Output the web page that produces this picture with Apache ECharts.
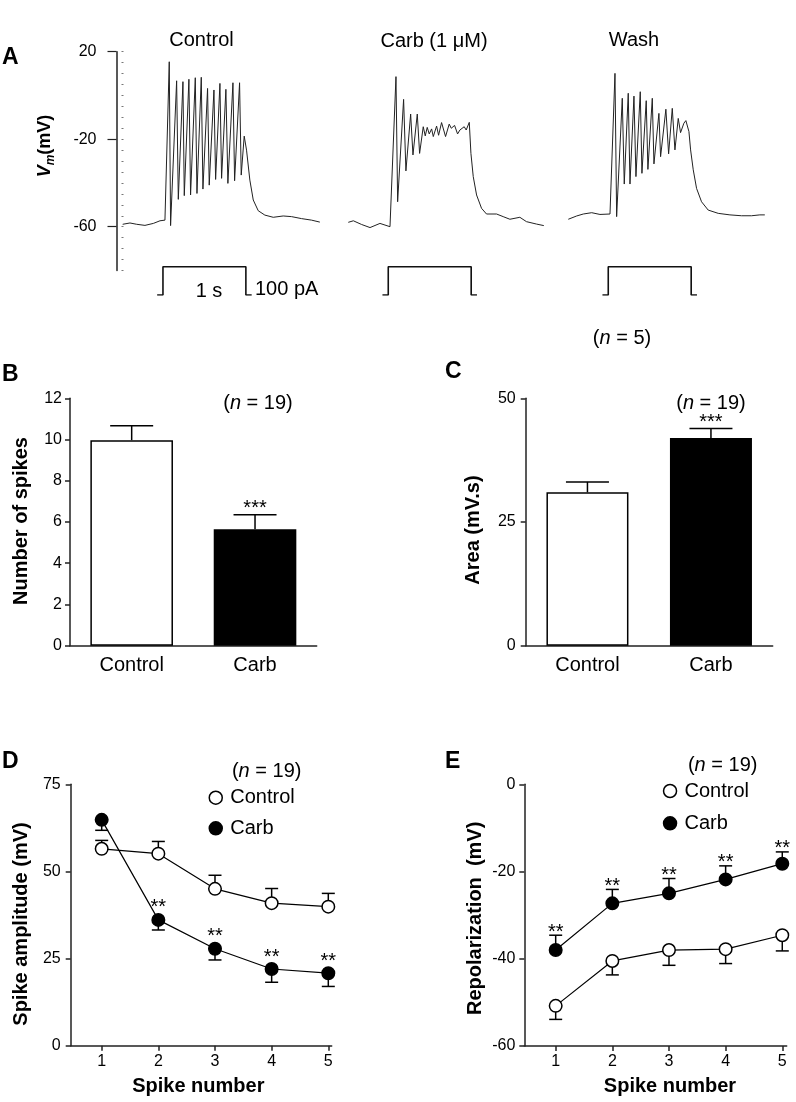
<!DOCTYPE html>
<html><head><meta charset="utf-8">
<script src="https://cdn.jsdelivr.net/npm/echarts@6/dist/echarts.min.js"></script>
<style>html,body{margin:0;padding:0;background:#fff}#c{width:796px;height:1102px}</style>
</head><body><div id="c"></div>
<script>
// ---------------- DATA ----------------
// Panel A: membrane potential traces [time (ms), Vm (mV)]
const traceControl = [[14,-58.9],[102,-58.3],[183,-58.9],[283,-59.4],[384,-58.5],[464,-57.3],[524,-57.0],
 [576,15.4],[592,-59.5],[665,6.7],[685,-47.5],[741,6.3],[757,-45.8],[813,7.4],[833,-45.5],[890,8.1],[910,-44.8],
 [962,8.3],[982,-42.8],[1038,3.2],[1058,-41.0],[1115,2.5],[1135,-38.4],[1187,5.5],[1207,-37.9],[1259,2.8],[1283,-40.2],
 [1344,5.8],[1364,-39.0],[1424,5.8],[1444,-36.4],[1480,-18.6],[1508,-25.0],[1548,-38.7],[1589,-47.8],[1649,-52.7],
 [1729,-54.7],[1830,-55.7],[1950,-55.1],[2051,-55.4],[2171,-56.3],[2292,-57.0],[2392,-57.9]];
const traceCarb = [[18,-58.0],[79,-57.3],[179,-59.0],[280,-60.4],[400,-58.5],[521,-60.0],[593,8.6],[613,-48.6],
 [685,-1.8],[713,-34.5],[770,-8.5],[798,-27.2],[850,-8.5],[878,-26.5],[922,-14.3],[946,-18.5],[970,-14.6],[994,-17.6],
 [1023,-15.3],[1043,-18.8],[1083,-14.0],[1107,-18.2],[1143,-12.4],[1191,-18.8],[1235,-13.1],[1260,-15.0],[1300,-13.7],
 [1336,-17.6],[1364,-15.8],[1388,-16.5],[1416,-14.3],[1440,-15.8],[1477,-12.3],[1497,-26.5],[1525,-37.1],[1565,-45.5],
 [1625,-51.6],[1685,-54.2],[1806,-54.2],[1886,-55.4],[1967,-56.6],[2087,-55.7],[2167,-57.7],[2288,-58.8],[2376,-59.5]];
const traceWash = [[18,-56.6],[119,-55.1],[199,-54.2],[300,-53.6],[400,-54.4],[521,-54.2],[581,10.1],[601,-55.4],
 [669,-1.3],[693,-40.5],[741,1.0],[762,-40.5],[810,-0.3],[834,-37.1],[886,1.7],[906,-35.6],[958,-2.4],[978,-33.8],
 [1031,-1.3],[1051,-31.3],[1111,-8.2],[1131,-28.0],[1195,-6.3],[1228,-26.7],[1272,-5.9],[1304,-24.9],[1344,-10.5],
 [1372,-17.0],[1412,-12.7],[1436,-11.5],[1473,-16.5],[1493,-24.9],[1525,-34.0],[1565,-42.5],[1625,-48.6],[1705,-52.4],
 [1826,-53.9],[1967,-54.6],[2107,-55.0],[2228,-55.0],[2328,-54.6],[2388,-54.6]];
// current step [time (ms), pA]
const stimulus = [[430,0],[500,0],[500,100],[1500,100],[1500,0],[1570,0]];
const vmTicks = [20,-20,-60];

// Panel B & C
const barCats = ['Control','Carb'];
const spikesMean = [9.97, 5.65];
const spikesSem = [0.7, 0.7];
const areaMean = [31.0, 42.0];
const areaSem = [2.1, 1.9];

// Panel D & E
const spikeNums = [1,2,3,4,5];
const ampControl = [56.5, 55.1, 45.0, 40.9, 39.9];
const ampControlSem = [2.4, 3.5, 3.9, 4.2, 3.8];
const ampCarb = [64.8, 36.1, 27.8, 22.0, 20.8];
const ampCarbSem = [3.0, 2.9, 3.2, 3.8, 3.8];
const repControl = [-50.8, -40.5, -38.0, -37.8, -34.6];
const repControlSem = [3.1, 3.2, 3.5, 3.3, 3.6];
const repCarb = [-38.0, -27.3, -25.0, -21.8, -18.2];
const repCarbSem = [3.4, 3.2, 3.4, 3.1, 2.7];
const starsD = [2,3,4,5];
const starsE = [1,2,3,4,5];

// ---------------- CHART ----------------
const FONT = '"Liberation Sans", Arial, Helvetica, sans-serif';
const AX = '#222';
const chart = echarts.init(document.getElementById('c'), null, {renderer:'canvas'});

const traceLefts = [121.5, 346.8, 566.8];
const grids = [];
traceLefts.forEach(l => grids.push({left:l, top:51.7, width:199, height:218.75}));
traceLefts.forEach(l => grids.push({left:l, top:266.7, width:199, height:28.3}));
grids.push({left:70, top:398.3, width:246.7, height:247.4});     // B
grids.push({left:525.7, top:398.3, width:247, height:247.4});    // C
grids.push({left:70.7, top:784.3, width:261, height:261.4});     // D
grids.push({left:524.3, top:784.3, width:262.4, height:261.7});  // E

const axLine = {show:true, onZero:false, lineStyle:{color:AX, width:1.5}};
const tickLab = {color:'#000', fontSize:16, fontFamily:FONT};

const xAxis = [];
for (let g=0; g<6; g++) xAxis.push({type:'value', gridIndex:g, min:0, max:2400, show:false});
[6,7].forEach(g => xAxis.push({type:'category', gridIndex:g, position:'bottom', data:barCats, axisLine:axLine,
  axisTick:{show:false}, axisLabel:{color:'#000', fontSize:20, fontFamily:FONT, margin:10}}));
[[8,0.453,5.06],[9,0.446,5.078]].forEach(([g,mn,mx]) => xAxis.push({type:'value', gridIndex:g, position:'bottom',
  min:mn, max:mx, axisLine:axLine, splitLine:{show:false},
  axisTick:{show:true, length:5, lineStyle:{color:AX, width:1.5}, customValues:spikeNums},
  axisLabel:Object.assign({margin:8, customValues:spikeNums}, tickLab)}));

const yAxis = [
  {type:'value', gridIndex:0, position:'left', min:-80, max:20, offset:5, axisLine:axLine, splitLine:{show:false},
   axisTick:{show:true, length:9, lineStyle:{color:AX, width:1.2}, customValues:vmTicks},
   axisLabel:Object.assign({margin:20, customValues:vmTicks}, tickLab)},
  {type:'value', gridIndex:0, position:'left', min:-80, max:20, interval:5, offset:5, axisLine:{show:false},
   splitLine:{show:false},
   axisTick:{show:true, inside:true, length:2, lineStyle:{color:'#777', width:1}}, axisLabel:{show:false}},
  {type:'value', gridIndex:1, min:-80, max:20, show:false},
  {type:'value', gridIndex:2, min:-80, max:20, show:false},
  {type:'value', gridIndex:3, min:0, max:100, show:false},
  {type:'value', gridIndex:4, min:0, max:100, show:false},
  {type:'value', gridIndex:5, min:0, max:100, show:false},
  {type:'value', gridIndex:6, position:'left', min:0, max:12, interval:2, axisLine:axLine, splitLine:{show:false},
   axisTick:{show:true, length:5, lineStyle:{color:AX, width:1.5}}, axisLabel:Object.assign({margin:8}, tickLab)},
  {type:'value', gridIndex:7, position:'left', min:0, max:50, interval:25, axisLine:axLine, splitLine:{show:false},
   axisTick:{show:true, length:5, lineStyle:{color:AX, width:1.5}}, axisLabel:Object.assign({margin:10}, tickLab)},
  {type:'value', gridIndex:8, position:'left', min:0, max:75, interval:25, axisLine:axLine, splitLine:{show:false},
   axisTick:{show:true, length:5, lineStyle:{color:AX, width:1.5}}, axisLabel:Object.assign({margin:10}, tickLab)},
  {type:'value', gridIndex:9, position:'left', min:-60, max:0, interval:20, axisLine:axLine, splitLine:{show:false},
   axisTick:{show:true, length:5, lineStyle:{color:AX, width:1.5}}, axisLabel:Object.assign({margin:9}, tickLab)}
];

function errRender(capW, dir) {
  return function(params, api) {
    const x = api.value(0), m = api.value(1), e = api.value(2);
    const p0 = api.coord([x, m]), p1 = api.coord([x, m + dir * e]);
    const st = {stroke:'#000', lineWidth:1.5};
    return {type:'group', children:[
      {type:'line', shape:{x1:p0[0], y1:p0[1], x2:p1[0], y2:p1[1]}, style:st},
      {type:'line', shape:{x1:p1[0]-capW/2, y1:p1[1], x2:p1[0]+capW/2, y2:p1[1]}, style:st}
    ]};
  };
}
function starRender(text, off) {
  return function(params, api) {
    const p = api.coord([api.value(0), api.value(1)]);
    return {type:'text', x:p[0], y:p[1]-off, style:{text:text, fontSize:20, fontFamily:FONT, fill:'#000',
      align:'center', verticalAlign:'middle', textAlign:'center', textVerticalAlign:'middle'}};
  };
}

const series = [];
[traceControl, traceCarb, traceWash].forEach((d,i) => series.push({type:'line', name:'trace'+i,
  xAxisIndex:i, yAxisIndex:i===0?0:i+1, data:d, symbol:'none', silent:true,
  lineStyle:{color:'#222', width:1}}));
[0,1,2].forEach(i => series.push({type:'line', name:'stim'+i, xAxisIndex:3+i, yAxisIndex:4+i,
  data:stimulus, symbol:'none', silent:true, lineStyle:{color:'#111', width:1.6}}));

// B
series.push({type:'bar', name:'Number of spikes', xAxisIndex:6, yAxisIndex:7, barWidth:82.6, z:2,
  data:[{value:spikesMean[0], itemStyle:{color:'#fff'}}, {value:spikesMean[1], itemStyle:{color:'#000'}}],
  itemStyle:{borderColor:'#000', borderWidth:1.5}});
series.push({type:'custom', name:'errB', xAxisIndex:6, yAxisIndex:7, z:1, renderItem:errRender(43, 1),
  encode:{x:0, y:1}, data:barCats.map((c,i)=>[i, spikesMean[i], spikesSem[i]])});
series.push({type:'custom', name:'starB', xAxisIndex:6, yAxisIndex:7, z:3, renderItem:starRender('***', 6),
  encode:{x:0, y:1}, data:[[1, spikesMean[1]+spikesSem[1]]]});
// C
series.push({type:'bar', name:'Area', xAxisIndex:7, yAxisIndex:8, barWidth:82, z:2,
  data:[{value:areaMean[0], itemStyle:{color:'#fff'}}, {value:areaMean[1], itemStyle:{color:'#000'}}],
  itemStyle:{borderColor:'#000', borderWidth:1.5}});
series.push({type:'custom', name:'errC', xAxisIndex:7, yAxisIndex:8, z:1, renderItem:errRender(43, 1),
  encode:{x:0, y:1}, data:barCats.map((c,i)=>[i, areaMean[i], areaSem[i]])});
series.push({type:'custom', name:'starC', xAxisIndex:7, yAxisIndex:8, z:3, renderItem:starRender('***', 6),
  encode:{x:0, y:1}, data:[[1, areaMean[1]+areaSem[1]]]});

// D & E
function lineSeries(name, xi, yi, vals, filled) {
  return {type:'line', name:name, xAxisIndex:xi, yAxisIndex:yi, z:3,
    data:spikeNums.map((n,i)=>[n, vals[i]]), symbol:'circle', symbolSize:12.5,
    lineStyle:{color:'#000', width:1.2},
    itemStyle:{color:filled?'#000':'#fff', borderColor:'#000', borderWidth:1.5}};
}
function errSeries(xi, yi, vals, sem, dir) {
  return {type:'custom', xAxisIndex:xi, yAxisIndex:yi, z:2, renderItem:errRender(13, dir),
    encode:{x:0, y:1}, data:spikeNums.map((n,i)=>[n, vals[i], sem[i]])};
}
series.push(errSeries(8, 9, ampControl, ampControlSem, 1));
series.push(errSeries(8, 9, ampCarb, ampCarbSem, -1));
series.push(lineSeries('Control', 8, 9, ampControl, false));
series.push(lineSeries('Carb', 8, 9, ampCarb, true));
series.push({type:'custom', xAxisIndex:8, yAxisIndex:9, z:4, renderItem:starRender('**', 12),
  encode:{x:0, y:1}, data:starsD.map(n=>[n, ampCarb[n-1]])});
series.push(errSeries(9, 10, repControl, repControlSem, -1));
series.push(errSeries(9, 10, repCarb, repCarbSem, 1));
series.push(lineSeries('Control', 9, 10, repControl, false));
series.push(lineSeries('Carb', 9, 10, repCarb, true));
series.push({type:'custom', xAxisIndex:9, yAxisIndex:10, z:4, renderItem:starRender('**', 3),
  encode:{x:0, y:1}, data:starsE.map(n=>[n, repCarb[n-1]+repCarbSem[n-1]])});

function legendAt(left, top, gap) {
  return {orient:'vertical', left:left, top:top, padding:0, itemGap:gap, itemWidth:13, itemHeight:13,
    icon:'circle', selectedMode:false, lineStyle:{opacity:0},
    textStyle:{fontSize:20, color:'#000', fontFamily:FONT, lineHeight:20, padding:[0,0,0,3]},
    data:[{name:'Control', itemStyle:{color:'#fff', borderColor:'#000', borderWidth:1.5}},
          {name:'Carb', itemStyle:{color:'#000', borderColor:'#000', borderWidth:1.5}}]};
}

function txt(x, y, text, o) {
  o = o || {};
  return {type:'text', x:x, y:y, rotation:o.rot||0, z:10, silent:true,
    style:{text:text, fontSize:o.size||20, fontWeight:o.bold?'bold':'normal', fontStyle:o.italic?'italic':'normal',
      fontFamily:FONT, fill:'#000', align:o.align||'center', verticalAlign:'middle',
      textAlign:o.align||'center', textVerticalAlign:'middle', rich:o.rich}};
}
const nRich = {a:{fontSize:20, fontFamily:FONT}, i:{fontSize:20, fontStyle:'italic', fontFamily:FONT}};
const R90 = Math.PI/2;
const elements = [
  txt(2, 58, 'A', {bold:true, size:23, align:'left'}),
  txt(2, 375, 'B', {bold:true, size:23, align:'left'}),
  txt(445, 372, 'C', {bold:true, size:23, align:'left'}),
  txt(2, 762, 'D', {bold:true, size:23, align:'left'}),
  txt(445, 762, 'E', {bold:true, size:23, align:'left'}),
  txt(201.5, 40, 'Control'),
  txt(434, 41, 'Carb (1 \u03BCM)'),
  txt(634, 40, 'Wash'),
  txt(209, 291, '1 s'),
  txt(255, 289, '100 pA', {align:'left'}),
  txt(622, 338, '{a|(}{i|n}{a| = 5)}', {rich:nRich}),
  txt(258, 403.3, '{a|(}{i|n}{a| = 19)}', {rich:nRich}),
  txt(711, 403.3, '{a|(}{i|n}{a| = 19)}', {rich:nRich}),
  txt(266.7, 771.7, '{a|(}{i|n}{a| = 19)}', {rich:nRich}),
  txt(722.7, 765, '{a|(}{i|n}{a| = 19)}', {rich:nRich}),
  txt(45.5, 146, '{vi|V}{s|m}{v|(mV)}', {rot:R90, rich:{
     vi:{fontSize:18, fontWeight:'bold', fontStyle:'italic', fontFamily:FONT, lineHeight:22},
     v:{fontSize:18, fontWeight:'bold', fontStyle:'normal', fontFamily:FONT, lineHeight:22},
     s:{fontSize:12, fontWeight:'bold', fontStyle:'italic', fontFamily:FONT, lineHeight:12, verticalAlign:'bottom'}}}),
  txt(21.7, 521, 'Number of spikes', {bold:true, rot:R90}),
  txt(473.3, 530, 'Area (mV.s)', {bold:true, rot:R90}),
  txt(21.7, 924, 'Spike amplitude (mV)', {bold:true, rot:R90}),
  txt(475, 918.3, 'Repolarization  (mV)', {bold:true, rot:R90}),
  txt(198.3, 1086.7, 'Spike number', {bold:true}),
  txt(670, 1086.7, 'Spike number', {bold:true})
];

chart.setOption({
  animation:false,
  backgroundColor:'#fff',
  textStyle:{fontFamily:FONT},
  grid:grids, xAxis:xAxis, yAxis:yAxis, series:series,
  legend:[legendAt(208.5, 787.7, 10.6), legendAt(662.8, 781, 12.3)],
  graphic:{elements:elements}
});
</script>
</body></html>
